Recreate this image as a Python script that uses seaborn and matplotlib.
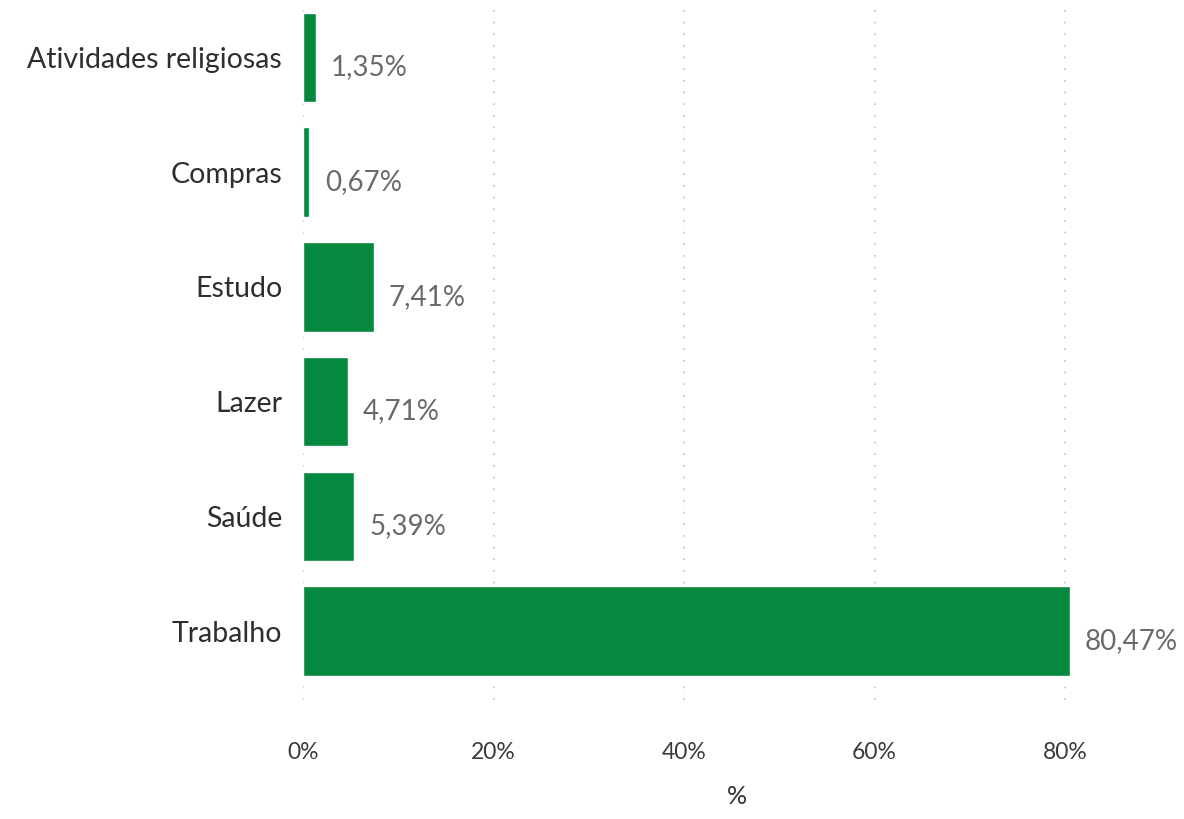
import matplotlib
matplotlib.use("Agg")
import matplotlib.pyplot as plt
import seaborn as sns
import pandas as pd

categories = ["Atividades religiosas", "Compras", "Estudo", "Lazer", "Saúde", "Trabalho"]
values = [1.35, 0.67, 7.41, 4.71, 5.39, 80.47]
value_labels = ["1,35%", "0,67%", "7,41%", "4,71%", "5,39%", "80,47%"]
xticks = [0, 20, 40, 60, 80]
xtick_labels = ["0%", "20%", "40%", "60%", "80%"]

sns.set_theme(style="white")
plt.rcParams['font.family'] = ['Lato', 'DejaVu Sans']

df = pd.DataFrame({"cat": categories, "val": values})

fig = plt.figure(figsize=(11.84, 8.19), dpi=100)
ax = fig.add_axes([0.2559, 0.1453, 0.7323, 0.8547])

sns.barplot(data=df, y="cat", x="val", orient="h", color="#04893F",
            saturation=1, width=0.78, ax=ax)

ax.set_xlim(0, 91)
ax.set_ylim(5.6, -0.5)
ax.set_xticks(xticks)
ax.set_xticklabels(xtick_labels, fontsize=16.5, color="#3A3A3A")
ax.tick_params(axis="y", labelsize=20.5, labelcolor="#2E2E2E", length=0, pad=15)
ax.tick_params(axis="x", length=0, pad=30)
ax.set_ylabel("")
ax.set_xlabel("%", fontsize=18, color="#333333", labelpad=16)

for s in ax.spines.values():
    s.set_visible(False)

ax.set_axisbelow(True)
ax.xaxis.grid(True, linestyle=(0, (1, 6)), color="#C4C4C4", linewidth=1.2)
ax.yaxis.grid(False)

for i, (v, lab) in enumerate(zip(values, value_labels)):
    ax.annotate(lab, xy=(v, i), xytext=(11, -7), textcoords="offset points",
                ha="left", va="center", fontsize=20, color="#6A6A6A")

fig.savefig("out.png", dpi=100)
